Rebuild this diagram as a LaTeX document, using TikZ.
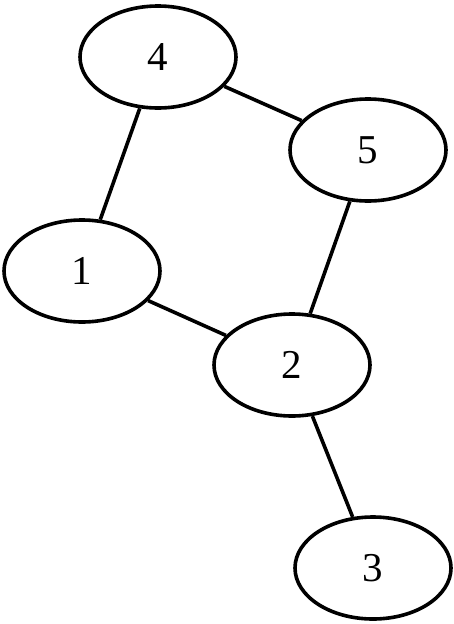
\documentclass[tikz,border=0pt]{standalone}
\usepackage{fontspec}
\setmainfont{Liberation Serif}
\usetikzlibrary{shapes.geometric}
\begin{document}
\begin{tikzpicture}[x=1pt, y=-1pt, line width=3.6pt, main/.style={draw,ellipse,minimum width=156pt,minimum height=102pt,inner sep=0pt,font=\fontsize{41}{44}\selectfont}]
		\useasboundingbox (0,0) rectangle (454,624);
		\node[main] (four) at (158,57) {4};
		\node[main] (five) at (368,150) {5};
		\node[main] (one) at (82,271) {1};
		\node[main] (two) at (292,365) {2};
		\node[main] (three) at (373,568) {3};

		\path
			(four) edge (one)
			(four) edge (five)
			(five) edge (two)
			(one) edge (two)
			(two) edge (three);
	\end{tikzpicture}
\end{document}
